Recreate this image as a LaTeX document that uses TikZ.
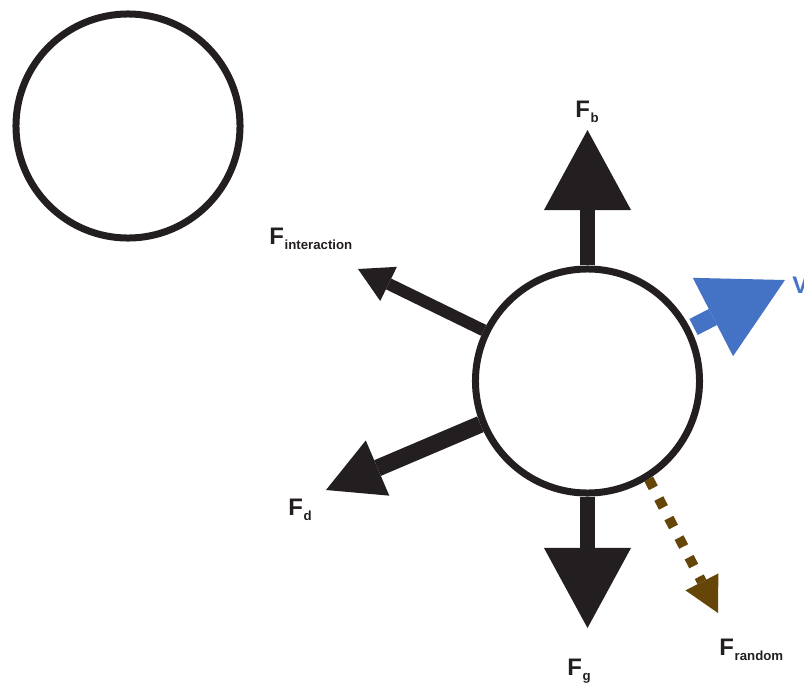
\documentclass[tikz,border=0pt]{standalone}
\usepackage{fontspec}
\setmainfont{Liberation Sans}
\usetikzlibrary{arrows.meta,positioning,calc}
\definecolor{inkblack}{HTML}{231F20}
\definecolor{vblue}{HTML}{4472C4}
\definecolor{rbrown}{HTML}{654608}
\newcommand{\forcename}[1]{{\fontsize{17}{17}\selectfont F}\kern0.6pt\raisebox{-4.2pt}{\fontsize{9.4}{9.4}\selectfont #1}}

\begin{document}
\begin{tikzpicture}[
  x=0.025cm, y=-0.025cm,
  ball/.style   = {circle, draw=inkblack, line width=0.175cm,
                   minimum size=5.6cm, inner sep=0pt},
  bigarr/.style = {draw=inkblack, line width=0.375cm,
                   -{Triangle[length=2cm, width=2.175cm, line width=0pt]}},
  midarr/.style = {draw=inkblack, line width=0.425cm,
                   -{Triangle[length=1.4cm, width=1.5cm, line width=0pt]}},
  thinarr/.style= {draw=inkblack, line width=0.3cm,
                   -{Triangle[length=0.85cm, width=0.95cm, line width=0pt]}},
  velarr/.style = {draw=vblue, line width=0.45cm, shorten <=0.0875cm,
                   -{Triangle[length=2.025cm, width=2.2cm, line width=0pt]}},
  randarr/.style= {draw=rbrown, line width=0.25cm, dash pattern=on 0.25cm off 0.3cm,
                   -{Triangle[length=0.875cm, width=0.925cm, line width=0pt]}},
  flabel/.style = {anchor=base west, inner sep=0pt, font=\bfseries, text=inkblack},
]
\useasboundingbox (0,0) rectangle (804,686);

% the two particles
\node[ball] (other) at (128,126) {};
\node[ball] (ball)  at (587.5,381) {};

% arrow tips
\coordinate (btip) at (587.5,130);
\coordinate (gtip) at (587.5,628);
\coordinate (itip) at (358,269);
\coordinate (dtip) at (326,490);
\coordinate (vtip) at (785,280);
\coordinate (rtip) at (718,613);

\draw[bigarr]  (ball.north) -- (btip);
\draw[bigarr]  (ball.south) -- (gtip);
\draw[thinarr] (ball.154)   -- (itip);
\draw[midarr]  (ball.202)   -- (dtip);
\draw[velarr]  (ball.27)    -- (vtip);
\draw[randarr] (ball.302)   -- (rtip);

% labels
\node[flabel] (fb)    at (575,117) {\forcename{b}};
\node[flabel] (fint)  at (269,244) {\forcename{interaction}};
\node[flabel] (fd)    at (288,515) {\forcename{d}};
\node[flabel] (fg)    at (567,675) {\forcename{g}};
\node[flabel] (frand) at (719,655) {\forcename{random}};
\node[flabel, text=vblue] (vel) at (792,293) {\fontsize{17}{17}\selectfont V};
\end{tikzpicture}
\end{document}
